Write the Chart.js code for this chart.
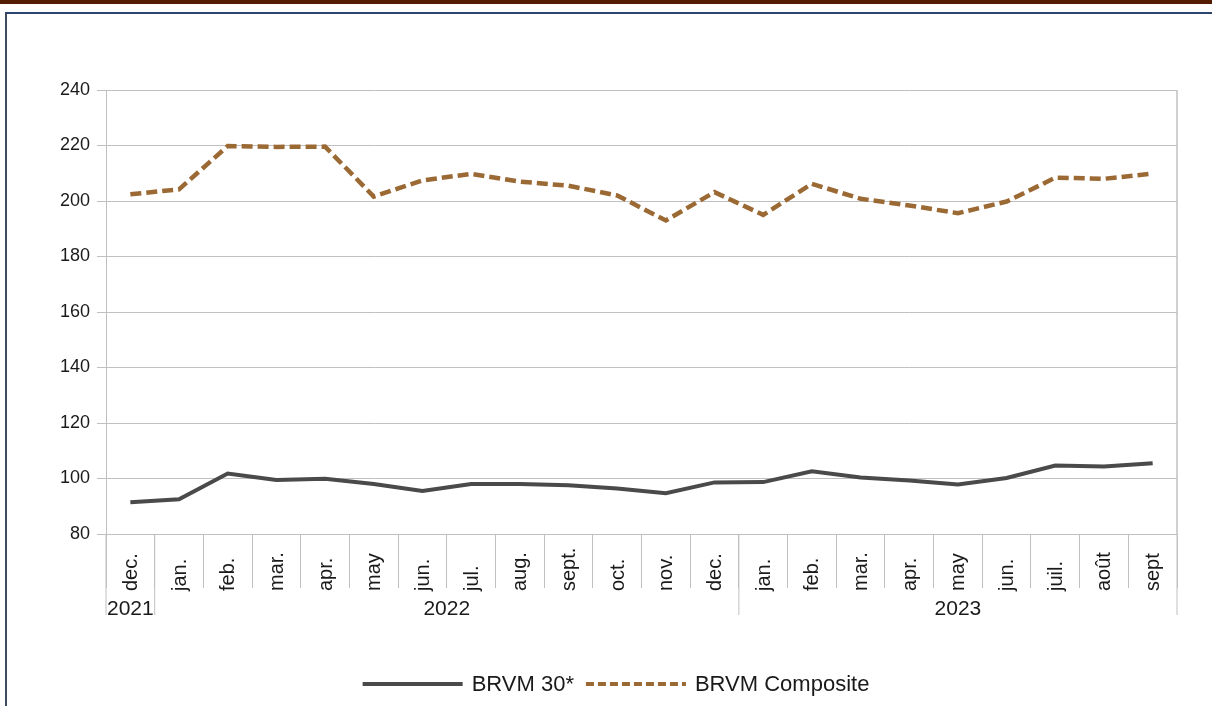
<!DOCTYPE html>
<html>
<head>
<meta charset="utf-8">
<script src="https://cdn.jsdelivr.net/npm/chart.js@4.4.1/dist/chart.umd.min.js"></script>
<style>
  body { margin: 0; background: #fff; }
  #wrap { position: relative; width: 1212px; height: 706px; overflow: hidden; }
  #topbar { position: absolute; left: 0; top: 0; width: 1212px; height: 4px; background: #521d02; }
  #frame { position: absolute; left: 5px; top: 12px; width: 1212px; height: 700px;
           border-top: 2px solid #2b4470; border-left: 2px solid #3c4b5e; box-sizing: border-box; }
  canvas { position: absolute; left: 0; top: 0; }
</style>
</head>
<body>
<div id="wrap">
  <canvas id="grafico" width="1212" height="706"></canvas>
  <div id="topbar"></div>
  <div id="frame"></div>
</div>
<script>
const months = ['dec.', 'jan.', 'feb.', 'mar.', 'apr.', 'may', 'jun.', 'jul.', 'aug.', 'sept.', 'oct.', 'nov.', 'dec.',
                'jan.', 'feb.', 'mar.', 'apr.', 'may', 'jun.', 'juil.', 'août', 'sept'];
const years = ['2021', '2022', '2023'];
const monthsPerYear = [1, 12, 9];

const brvm30 = [91.4, 92.5, 101.8, 99.5, 99.9, 98.0, 95.5, 98.0, 98.0, 97.6, 96.4, 94.7, 98.6,
                98.7, 102.6, 100.4, 99.3, 97.8, 100.2, 104.7, 104.3, 105.5];
const composite = [202.4, 204.2, 219.8, 219.5, 219.6, 201.6, 207.4, 209.8, 207.0, 205.5, 202.0, 193.0, 203.2,
                   195.0, 206.2, 200.8, 198.4, 195.6, 199.8, 208.4, 208.0, 209.9];

const yTicks = [80, 100, 120, 140, 160, 180, 200, 220, 240];

const FONT = '"Liberation Sans", Arial, sans-serif';
const GRID = '#c0c0c0';
const TEXT = '#1a1a1a';
const DARK = '#4a4a4a';
const BROWN = '#9b6934';

// labels, separateurs d'annees et legende
const extras = {
  id: 'extras',
  afterDraw(chart) {
    const ctx = chart.ctx;
    const x = chart.scales.x;
    const area = chart.chartArea;
    const half = (x.getPixelForValue(1) - x.getPixelForValue(0)) / 2;

    ctx.save();
    ctx.strokeStyle = GRID;
    ctx.lineWidth = 1.5;
    ctx.beginPath();
    ctx.moveTo(area.right, area.top);
    ctx.lineTo(area.right, area.bottom);
    ctx.stroke();

    // separateurs des annees
    ctx.lineWidth = 1;
    let idx = 0;
    const bounds = [x.getPixelForValue(0) - half];
    monthsPerYear.forEach(n => {
      idx += n;
      bounds.push(x.getPixelForValue(idx - 1) + half);
    });
    bounds.forEach(b => {
      ctx.beginPath();
      ctx.moveTo(b, area.bottom);
      ctx.lineTo(b, area.bottom + 81);
      ctx.stroke();
    });

    // mois
    ctx.fillStyle = TEXT;
    ctx.font = '20px ' + FONT;
    months.forEach((m, i) => {
      ctx.save();
      ctx.translate(x.getPixelForValue(i) + 1, area.bottom + 57);
      ctx.rotate(-Math.PI / 2);
      ctx.textAlign = 'left';
      ctx.textBaseline = 'middle';
      ctx.fillText(m, 0, 0);
      ctx.restore();
    });

    // annees
    ctx.font = '21px ' + FONT;
    ctx.textAlign = 'center';
    ctx.textBaseline = 'middle';
    years.forEach((y, i) => {
      ctx.fillText(y, (bounds[i] + bounds[i + 1]) / 2, area.bottom + 75);
    });

    // legende
    ctx.font = '22px ' + FONT;
    ctx.textAlign = 'left';
    const items = [
      { label: 'BRVM 30*', color: DARK, dash: [] },
      { label: 'BRVM Composite', color: BROWN, dash: [8, 4] }
    ];
    const lineLen = 100, gapTxt = 9, gapItem = 12;
    let total = 0;
    items.forEach((it, i) => {
      total += lineLen + gapTxt + ctx.measureText(it.label).width + (i ? 0 : gapItem);
    });
    let lx = 616 - total / 2;
    const ly = 684;
    items.forEach(it => {
      ctx.strokeStyle = it.color;
      ctx.lineWidth = 4;
      ctx.setLineDash(it.dash);
      ctx.beginPath();
      ctx.moveTo(lx, ly);
      ctx.lineTo(lx + lineLen, ly);
      ctx.stroke();
      ctx.setLineDash([]);
      lx += lineLen + gapTxt;
      ctx.fillText(it.label, lx, ly + 1);
      lx += ctx.measureText(it.label).width + gapItem;
    });
    ctx.restore();
  }
};

const ctx = document.getElementById('grafico').getContext('2d');

new Chart(ctx, {
  type: 'line',
  data: {
    labels: months,
    datasets: [
      {
        label: 'BRVM 30*',
        data: brvm30,
        borderColor: DARK,
        borderWidth: 4,
        pointRadius: 0,
        tension: 0
      },
      {
        label: 'BRVM Composite',
        data: composite,
        borderColor: BROWN,
        borderWidth: 4.5,
        borderDash: [11, 5],
        pointRadius: 0,
        tension: 0
      }
    ]
  },
  options: {
    responsive: false,
    animation: false,
    layout: { padding: { top: 90, right: 35, bottom: 0, left: 0 } },
    plugins: {
      legend: { display: false },
      tooltip: { enabled: false }
    },
    scales: {
      x: {
        offset: true,
        afterFit: s => { s.height = 172; },
        ticks: { display: false },
        grid: { drawOnChartArea: false, offset: true, tickLength: 54, color: GRID },
        border: { display: true, color: GRID }
      },
      y: {
        min: 80,
        max: 240,
        afterFit: s => { s.width = 106; },
        afterBuildTicks: s => { s.ticks = yTicks.map(v => ({ value: v })); },
        ticks: { font: { size: 18, family: FONT }, color: TEXT, padding: 7 },
        grid: { color: GRID, tickLength: 9 },
        border: { color: GRID }
      }
    }
  },
  plugins: [extras]
});
</script>
</body>
</html>
